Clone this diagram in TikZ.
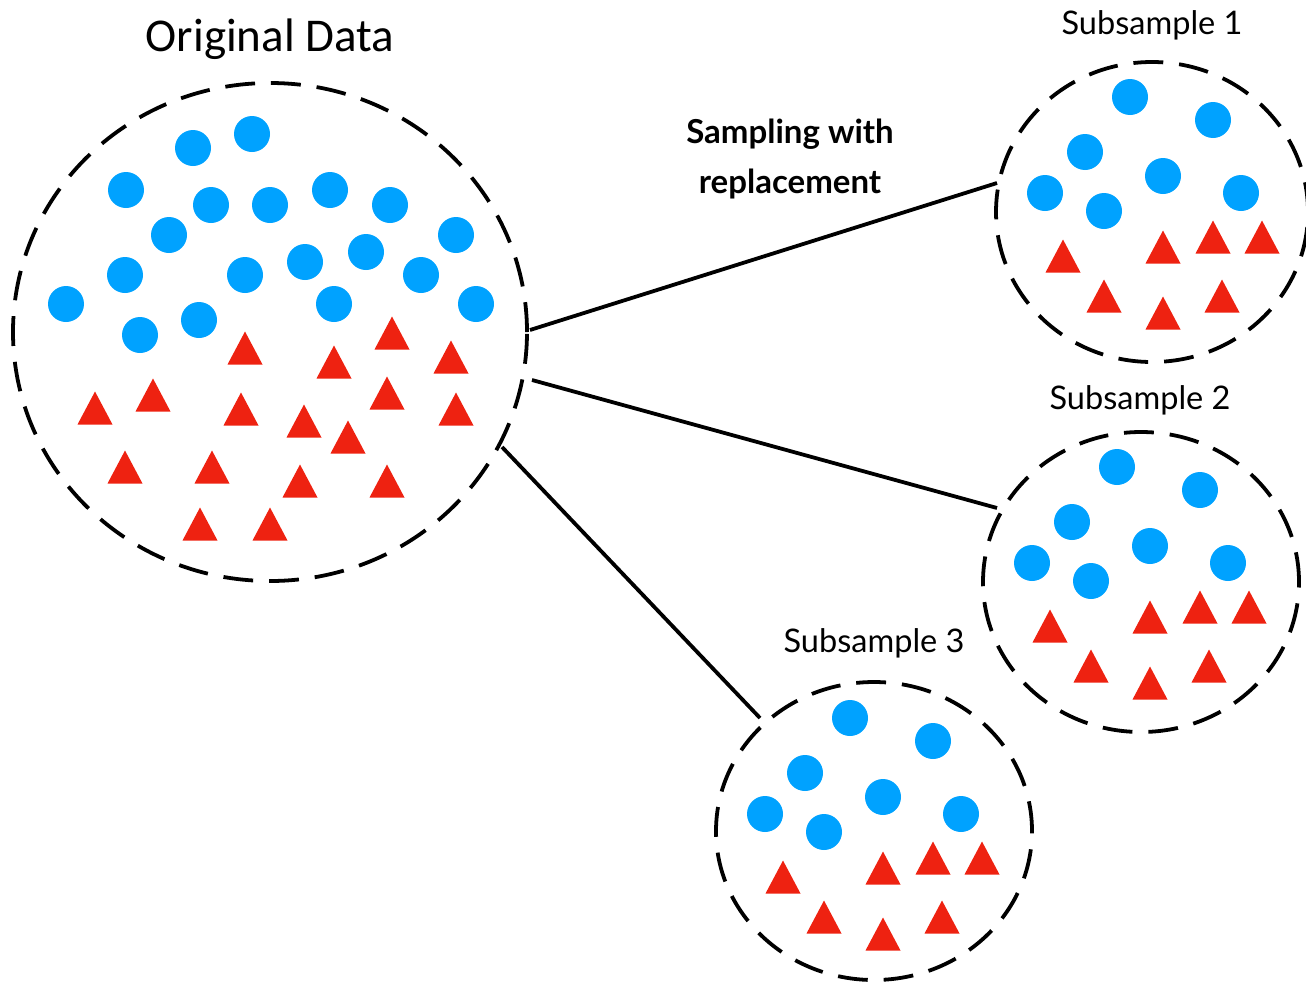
\documentclass[tikz,border=0pt]{standalone}
\usepackage{fontspec}
\setmainfont{Lato}
\newfontfamily\calib{Carlito}
\usetikzlibrary{shapes.geometric}
\definecolor{dotblue}{HTML}{00A2FF}
\definecolor{trired}{HTML}{EE2211}
\tikzset{
  setcircle/.style={draw=black, line width=3.8pt, dash pattern=on 30pt off 16pt, ellipse, inner sep=0pt},
  link/.style={draw=black, line width=3.8pt},
  lbl/.style={inner sep=0pt, anchor=center},
  sublbl/.style={lbl, font=\fontsize{32.5bp}{36bp}\selectfont},
  subpattern/.pic={
    \fill[dotblue] (-22,-115) circle[radius=18];
    \fill[dotblue] (61,-92) circle[radius=18];
    \fill[dotblue] (-67,-60) circle[radius=18];
    \fill[dotblue] (11,-36) circle[radius=18];
    \fill[dotblue] (-107,-19) circle[radius=18];
    \fill[dotblue] (-48,-1) circle[radius=18];
    \fill[dotblue] (89,-19) circle[radius=18];
    \foreach \tx/\ty in {-89/44, 11/35, 61/25, 110/25, -48/84, 11/101, 70/84}{
      \fill[trired] (\tx-17.5,\ty+16.5) -- (\tx,\ty-16.5) -- (\tx+17.5,\ty+16.5) -- cycle;
    }
  }
}
\begin{document}
\begin{tikzpicture}[x=1bp,y=-1bp]
\useasboundingbox (0,0) rectangle (1306,986);

% Original data set
\node[setcircle, minimum width=514bp, minimum height=498bp] (orig) at (270,332) {};
\foreach \px/\py in {193/148, 252/134, 126/190, 211/205, 270/205, 330/190, 390/205, 169/235, 456/235, 125/275, 245/275, 305/262, 366/252, 421/275, 66/304, 476/304, 334/304, 140/335, 199/320}{
  \fill[dotblue] (\px,\py) circle[radius=18];
}
\foreach \tx/\ty in {245/348, 334/362, 392/333, 451/357, 95/408, 153/395, 241/409, 304/421, 387/393, 456/409, 348/437, 125/467, 212/467, 300/481, 387/481, 200/524, 270/524}{
  \fill[trired] (\tx-17.5,\ty+16.5) -- (\tx,\ty-16.5) -- (\tx+17.5,\ty+16.5) -- cycle;
}

% Subsamples
\node[setcircle, minimum width=312bp, minimum height=300bp] (subA) at (1152,212) {};
\pic at (1152,212) {subpattern};
\node[setcircle, minimum width=316bp, minimum height=300bp] (subB) at (1141,582) {};
\pic at (1139,582) {subpattern};
\node[setcircle, minimum width=316bp, minimum height=298bp] (subC) at (874,831) {};
\pic at (872,833) {subpattern};

% Connectors
\coordinate (oA) at (530,330);
\coordinate (oB) at (532,380);
\coordinate (oC) at (502,447);
\coordinate (eA) at (997,183);
\coordinate (eB) at (997,508);
\coordinate (eC) at (760,718);
\draw[link] (oA) -- (eA);
\draw[link] (oB) -- (eB);
\draw[link] (oC) -- (eC);

% Labels
\node[lbl, font=\calib\fontsize{47bp}{52bp}\selectfont] (tOrig) at (270,39) {Original Data};
\node[lbl, align=center, font=\fontsize{33bp}{50bp}\selectfont\bfseries] (tSamp) at (790,159) {Sampling with\\replacement};
\node[sublbl] (tA) at (1152,25) {Subsample 1};
\node[sublbl] (tB) at (1140,400) {Subsample 2};
\node[sublbl] (tC) at (874,643) {Subsample 3};
\end{tikzpicture}
\end{document}
